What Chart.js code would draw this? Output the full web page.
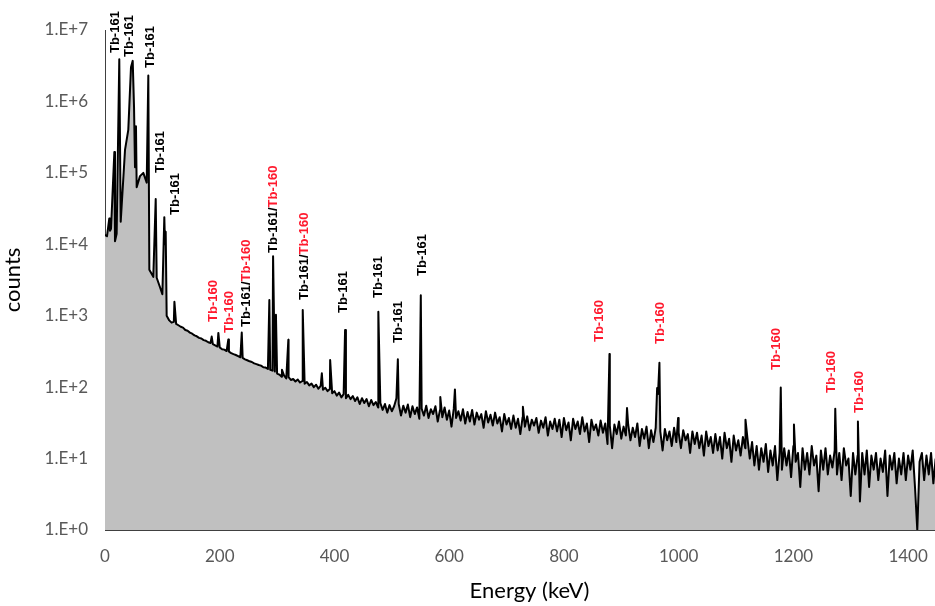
<!DOCTYPE html>
<html>
<head>
<meta charset="utf-8">
<title>Tb gamma spectrum</title>
<script src="https://cdn.jsdelivr.net/npm/chart.js@4.4.1/dist/chart.umd.min.js"></script>
<style>
  html, body { margin: 0; padding: 0; background: #fff; overflow: hidden; }
  canvas { display: block; }
</style>
</head>
<body>
<canvas id="spectrum" width="954" height="606"></canvas>
<script>
// low energy part, read point by point (keV / counts)
const lowEnergy = [0, 3.5, 7.5, 8.7, 10.5, 16.3, 17.4, 20.3, 24.9, 27.4,
  34.9, 40.6, 45.3, 48.3, 50.6, 52.3, 54, 55.2, 61, 66.8,
  72.7, 75.5, 77.3, 84.2, 88.4, 90.1, 95.9, 100, 103.4, 104.6,
  105.8, 107.5];
const lowCounts = [13500, 13000, 23000, 15500, 16500, 196000, 11000, 14000, 3900000, 20700,
  210000, 400000, 3000000, 3700000, 840000, 120000, 450000, 63000, 90000, 100000,
  73000, 2300000, 4400, 3500, 43000, 3400, 2500, 2000, 24000, 10000,
  15000, 1000];

// continuum from 112 keV, one channel every 4 keV
const contStart = 112;
const contStep = 4;
const contCounts = [
  860, 800, 820, 770, 735, 700, 680, 630, 615, 580,
  560, 530, 515, 490, 480, 455, 445, 425, 415, 400,
  385, 370, 360, 340, 335, 320, 315, 300, 290, 282,
  272, 262, 256, 245, 238, 230, 225, 215, 210, 204,
  200, 190, 188, 180, 175, 170, 165, 155, 150, 140,
  146, 132, 138, 126, 130, 120, 128, 116, 122, 112,
  118, 106, 112, 100, 108, 95, 104, 92, 98, 88,
  94, 82, 88, 76, 84, 72, 80, 70, 78, 68,
  75, 64, 72, 58, 70, 60, 68, 54, 66, 56,
  62, 52, 60, 48, 58, 44, 56, 46, 54, 70,
  58, 40, 55, 44, 57, 38, 54, 42, 52, 36,
  50, 40, 55, 37, 49, 42, 54, 33, 48, 38,
  52, 35, 47, 28, 50, 37, 46, 34, 49, 31,
  45, 33, 48, 30, 44, 35, 42, 27, 46, 32,
  41, 29, 44, 31, 38, 24, 42, 30, 37, 26,
  40, 27, 36, 22, 38, 28, 39, 25, 35, 29,
  37, 23, 34, 27, 38, 21, 33, 26, 36, 24,
  35, 20, 37, 25, 32, 18, 36, 26, 33, 22,
  38, 24, 31, 17, 35, 25, 30, 21, 34, 23,
  31, 16, 29, 14, 30, 22, 33, 19, 28, 21,
  30, 18, 27, 20, 31, 15, 26, 19, 28, 14,
  25, 17, 27, 80, 24, 13, 26, 18, 24, 15,
  27, 17, 23, 14, 25, 18, 22, 12, 24, 16,
  23, 14, 21, 11, 24, 15, 20, 12, 22, 13,
  20, 10, 23, 14, 19, 9, 21, 13, 18, 11,
  20, 14, 19, 10, 17, 8, 15, 7, 14, 9,
  16, 6.5, 13, 8, 15, 5, 12, 7, 14, 8,
  13, 5.5, 15, 9, 12, 4, 14, 7, 12, 6,
  15, 8, 11, 3.5, 13, 7, 14, 6, 11, 7.5,
  13, 6, 12, 5, 14, 8, 10, 3, 12, 6,
  11, 2.5, 12, 6, 13, 4, 11, 7, 12, 5,
  10, 6.5, 13, 3, 11, 7, 12, 4.5, 10, 6,
  12, 5, 11, 7, 13, 4, 1, 9, 12, 5,
  11, 6, 12, 4.5, 10
];

// peak tops above the continuum (keV / counts)
const peakEnergy = [121, 186, 197.6, 215, 238.4, 286.5, 293, 298, 308.5, 319.6,
  344.7, 378, 392.5, 418.5, 476.5, 510.5, 550.5, 584.5, 610, 728.5,
  879.4, 910, 962.5, 966.5, 999, 1116.5, 1178, 1201, 1273, 1312.5];
const peakCounts = [1570, 510, 575, 465, 580, 1660, 6800, 1030, 175, 460,
  1200, 156, 240, 630, 1140, 245, 1940, 73, 93, 53,
  290, 51, 97, 220, 37, 35, 99, 30, 50, 33];

// peak labels: text starts at (energy, counts) and runs upwards
const labelText = ["Tb-161", "Tb-161", "Tb-161", "Tb-161", "Tb-161",
  "Tb-160", "Tb-160", "Tb-161/Tb-160", "Tb-161/Tb-160", "Tb-161/Tb-160",
  "Tb-161", "Tb-161", "Tb-161", "Tb-161",
  "Tb-160", "Tb-160", "Tb-160", "Tb-160", "Tb-160"];
const labelEnergy = [17.4, 41.8, 78.5, 95.9, 122, 188.3, 216.2, 245.9, 293, 347,
  415.9, 476, 510.9, 552.7, 861.4, 967.7, 1170, 1266, 1315];
const labelCounts = [4760000, 4190000, 2940000, 99500, 25700, 817, 573, 695, 7550, 1660,
  1090, 1770, 415, 3600, 428, 402, 174, 82.8, 43.5];

const xTicks = [0, 200, 400, 600, 800, 1000, 1200, 1400];
const xTickLabels = ["0", "200", "400", "600", "800", "1000", "1200", "1400"];
const yTicks = [1, 10, 100, 1000, 10000, 100000, 1000000, 10000000];
const yTickLabels = ["1.E+0", "1.E+1", "1.E+2", "1.E+3", "1.E+4", "1.E+5", "1.E+6", "1.E+7"];

const nuclideColors = { "Tb-161": "#000000", "Tb-160": "#ff1a2e" };

const points = [];
lowEnergy.forEach((e, i) => points.push({ x: e, y: lowCounts[i] }));
contCounts.forEach((c, i) => points.push({ x: contStart + i * contStep, y: c }));
peakEnergy.forEach((e, i) => points.push({ x: e, y: peakCounts[i] }));
points.sort((a, b) => a.x - b.x);

const peakLabels = {
  id: "peakLabels",
  afterDatasetsDraw(chart) {
    const { ctx, scales: { x, y } } = chart;
    ctx.save();
    ctx.font = 'bold 13px "Liberation Sans", Arial, sans-serif';
    ctx.textBaseline = "middle";
    ctx.textAlign = "left";
    labelText.forEach((text, i) => {
      ctx.save();
      ctx.translate(x.getPixelForValue(labelEnergy[i]), y.getPixelForValue(labelCounts[i]));
      ctx.rotate(-Math.PI / 2);
      let offset = 0;
      const parts = text.split("/");
      parts.forEach((part, j) => {
        const piece = j < parts.length - 1 ? part + "/" : part;
        ctx.fillStyle = nuclideColors[part];
        ctx.fillText(piece, offset, 0);
        offset += ctx.measureText(piece).width;
      });
      ctx.restore();
    });
    ctx.restore();
  }
};

const tickFont = { family: "Lato, 'Open Sans', sans-serif", size: 17 };
const titleFont = { family: "Lato, 'Open Sans', sans-serif", size: 22 };

new Chart(document.getElementById("spectrum"), {
  type: "line",
  data: {
    datasets: [{
      data: points,
      borderColor: "#000000",
      borderWidth: 2,
      borderJoinStyle: "round",
      backgroundColor: "#c0c0c0",
      fill: "start",
      pointRadius: 0,
      tension: 0
    }]
  },
  options: {
    responsive: false,
    animation: false,
    devicePixelRatio: 1,
    events: [],
    layout: { padding: { top: 30, left: 0, right: 0, bottom: 0 } },
    plugins: { legend: { display: false }, tooltip: { enabled: false } },
    scales: {
      x: {
        type: "linear",
        min: 0,
        max: 1480,
        z: 1,
        grid: { display: false, drawTicks: false },
        border: { display: true, color: "#404040", width: 1 },
        afterBuildTicks: (scale) => { scale.ticks = xTicks.map(v => ({ value: v })); },
        afterFit: (scale) => { scale.height = 76; },
        ticks: {
          color: "#595959",
          font: tickFont,
          padding: 16,
          maxRotation: 0,
          callback: (value, index) => xTickLabels[index]
        },
        title: { display: true, text: "Energy (keV)", color: "#000000", font: titleFont, padding: { top: 0, bottom: 2 } }
      },
      y: {
        type: "logarithmic",
        min: 1,
        max: 10000000,
        z: 1,
        grid: { display: false, drawTicks: false },
        border: { display: true, color: "#404040", width: 1 },
        afterBuildTicks: (scale) => { scale.ticks = yTicks.map(v => ({ value: v })); },
        afterFit: (scale) => { scale.width = 105; },
        ticks: {
          color: "#595959",
          font: tickFont,
          padding: 17,
          callback: (value, index) => yTickLabels[index]
        },
        title: { display: true, text: "counts", color: "#000000", font: titleFont, padding: { top: 0, bottom: 0 } }
      }
    }
  },
  plugins: [peakLabels]
});
</script>
</body>
</html>
